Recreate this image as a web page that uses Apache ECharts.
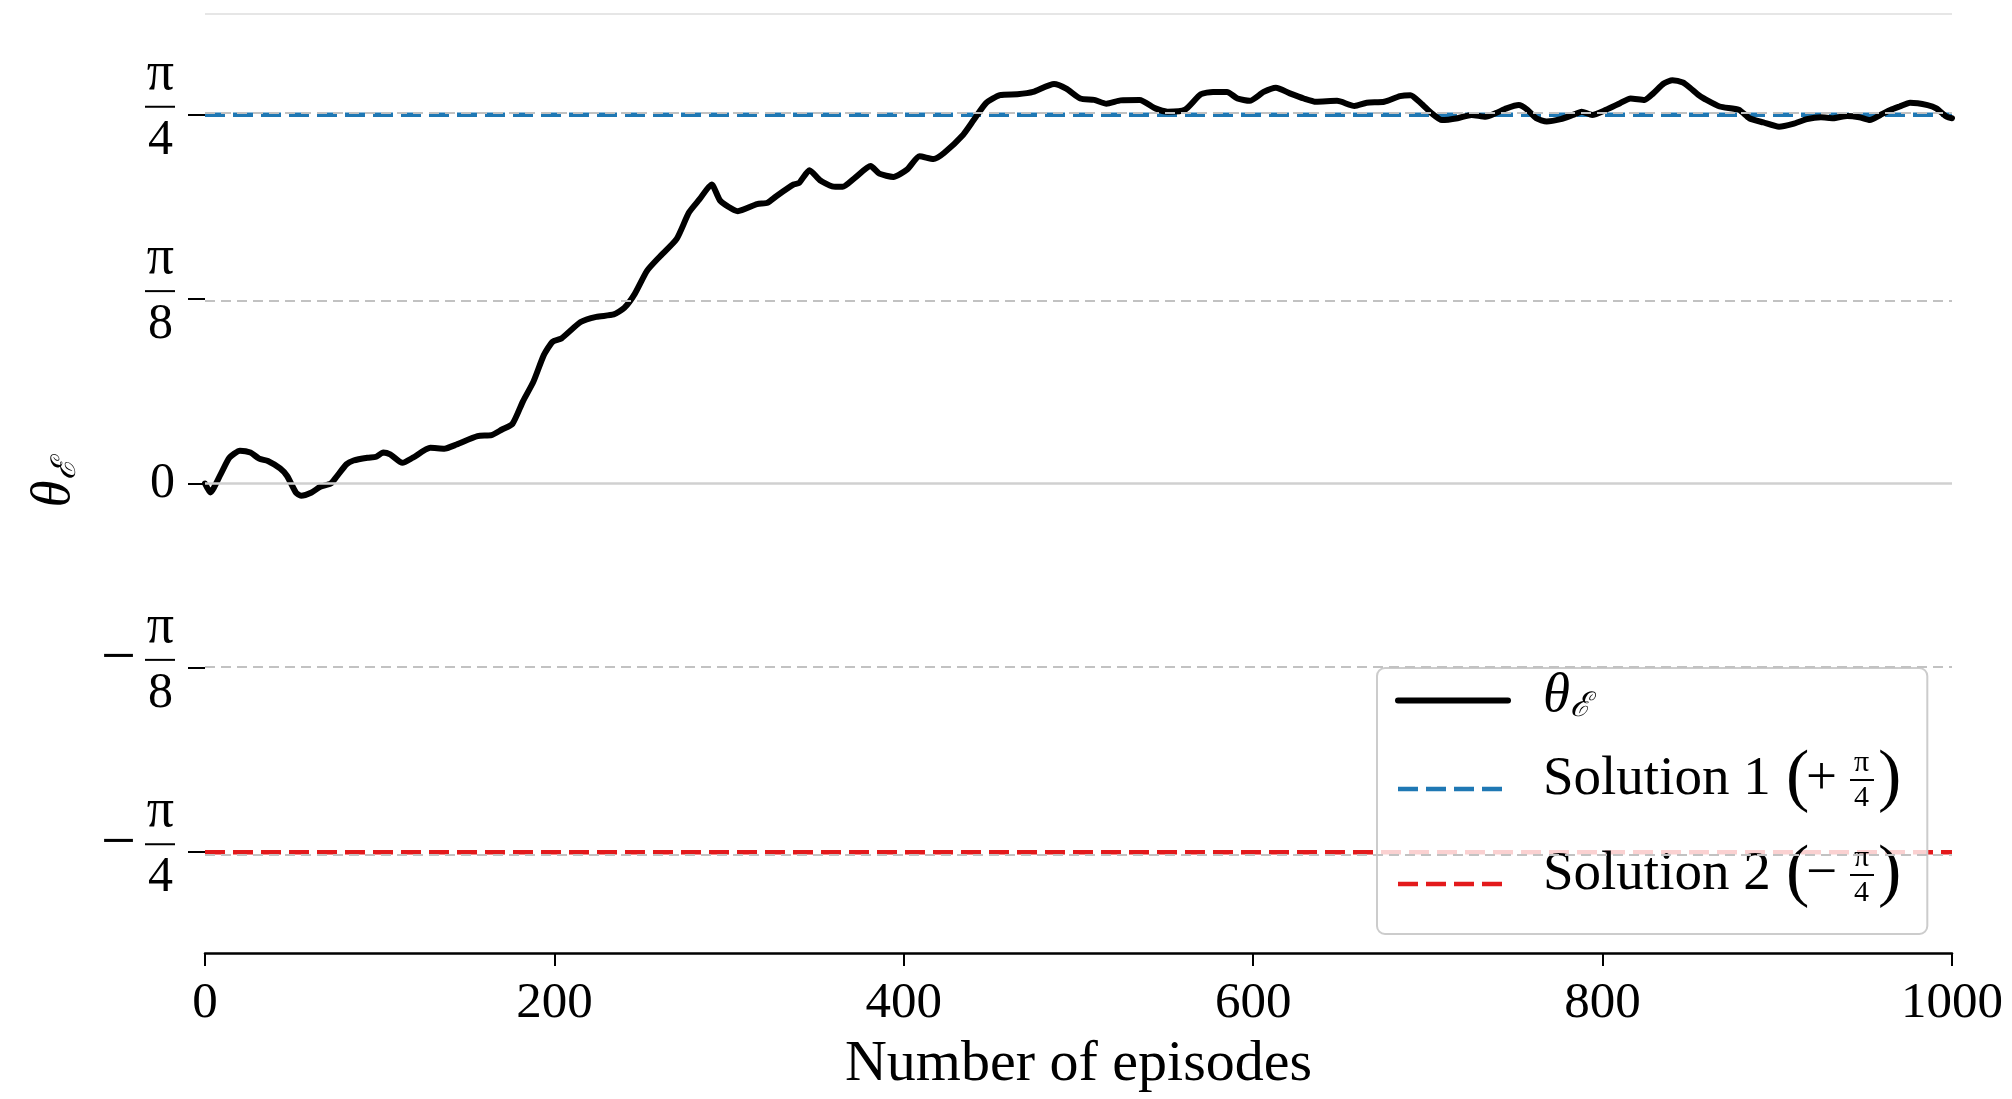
<!DOCTYPE html>
<html>
<head>
<meta charset="utf-8">
<script src="https://cdn.jsdelivr.net/npm/echarts@6/dist/echarts.min.js"></script>
<style>
html,body{margin:0;padding:0;background:#fff;}
#chart{width:2012px;height:1099px;}
</style>
</head>
<body>
<div id="chart"></div>
<script>
// ---- data ----
const episodes = [0,3,9,14,20,26,31,36,43,47,52,55,61,66,72,75,81,85,93,98,102,106,113,119,129,137,144,156,164,170,176,182,188,194,199,204,215,224,234,240,246,253,260,270,277,283,290,295,305,316,322,327,337,340,346,352,359,365,372,381,386,394,402,409,417,423,434,440,447,455,465,474,486,493,501,509,516,524,535,544,551,561,570,577,585,591,598,606,613,621,629,636,648,658,665,675,684,690,696,702,708,717,725,733,739,745,752,757,762,768,776,783,788,794,802,810,816,824,829,835,840,846,850,855,858,867,878,884,892,901,909,917,925,932,940,947,953,959,965,970,976,986,991,997,1000];
const theta = [0.000,-0.019,0.020,0.055,0.070,0.066,0.053,0.048,0.032,0.016,-0.019,-0.026,-0.019,-0.007,0.000,0.013,0.041,0.049,0.055,0.057,0.066,0.062,0.044,0.055,0.076,0.074,0.083,0.101,0.103,0.115,0.127,0.175,0.217,0.274,0.302,0.309,0.344,0.355,0.360,0.374,0.404,0.453,0.482,0.521,0.577,0.605,0.637,0.602,0.580,0.595,0.598,0.612,0.637,0.640,0.667,0.646,0.633,0.632,0.651,0.676,0.660,0.653,0.669,0.697,0.691,0.704,0.743,0.774,0.810,0.827,0.829,0.834,0.851,0.841,0.820,0.817,0.809,0.816,0.817,0.799,0.792,0.796,0.829,0.834,0.834,0.820,0.815,0.834,0.843,0.831,0.820,0.813,0.815,0.804,0.811,0.813,0.825,0.827,0.810,0.789,0.774,0.778,0.785,0.781,0.789,0.799,0.806,0.796,0.778,0.771,0.776,0.785,0.792,0.785,0.796,0.810,0.820,0.817,0.831,0.852,0.859,0.854,0.843,0.827,0.820,0.803,0.796,0.778,0.769,0.760,0.766,0.776,0.780,0.778,0.783,0.780,0.774,0.785,0.796,0.803,0.811,0.806,0.799,0.781,0.778];

const solutionX = [0, 1000];
const solution1 = Math.PI / 4;
const solution2 = -Math.PI / 4;

const yTickValues = [-Math.PI/4, -Math.PI/8, 0, Math.PI/8, Math.PI/4];
const yTickLabels = ['−π/4', '−π/8', '0', 'π/8', 'π/4'];
const xTickStep = 200;
const gridLines = { top: 1, zero: 0, dashed: [Math.PI/8, -Math.PI/8, Math.PI/4, -Math.PI/4] };

const seriesNames = ['θℰ', 'Solution 1 (+π/4)', 'Solution 2 (−π/4)'];

// ---- chart ----
const SERIF = '"Liberation Serif", "DejaVu Serif", serif';
const chart = echarts.init(document.getElementById('chart'), null, {renderer: 'canvas'});

function yLabel(v) {
  let idx = 0, best = 1e9;
  yTickValues.forEach((t, i) => { if (Math.abs(t - v) < best) { best = Math.abs(t - v); idx = i; } });
  const s = yTickLabels[idx];
  if (s === '0') return '{z|0}';
  const neg = s[0] === '−';
  const den = s.split('/')[1];
  return '{n|π}\n' + (neg ? '{m|−}' : '') + '{b|}\n{d|' + den + '}\n{e|}';
}

function legendLabel(name) {
  if (name === seriesNames[0]) return '{th|θ}{ts|ℰ}';
  const m = name.match(/^(Solution \d) \(([+−])π\/(\d)\)$/);
  return '{fn|π}\n{t|' + m[1] + ' }{po|(}{op|' + m[2] + '}{fb|}{pc|)}\n{fd|' + m[3] + '}\n{le|}';
}

const option = {
  animation: false,
  backgroundColor: '#ffffff',
  grid: { left: 205, right: 60, top: 14, bottom: 142, containLabel: false },
  xAxis: {
    type: 'value', min: 0, max: 1000, interval: xTickStep,
    name: 'Number of episodes', nameLocation: 'middle', nameGap: 83,
    nameTextStyle: { fontFamily: SERIF, fontSize: 58, color: '#000' },
    axisLine: { show: true, onZero: false, lineStyle: { color: '#000', width: 2.5 } },
    axisTick: { show: true, length: 13, lineStyle: { color: '#000', width: 2 } },
    axisLabel: { fontFamily: SERIF, fontSize: 51, color: '#000', margin: 25, formatter: v => String(v) },
    splitLine: { show: false }
  },
  yAxis: {
    type: 'value', min: -1, max: 1,
    name: '{t|θ}{s|ℰ}', nameLocation: 'middle', nameGap: 122, nameRotate: 90,
    nameTextStyle: {
      rich: {
        t: { fontFamily: SERIF, fontStyle: 'italic', fontSize: 55, color: '#000' },
        s: { fontFamily: '"DejaVu Serif", serif', fontStyle: 'italic', fontSize: 34, color: '#000', padding: [22, 0, 0, 0] }
      }
    },
    axisLine: { show: false },
    axisTick: { show: true, customValues: yTickValues, length: 17, lineStyle: { color: '#000', width: 2 } },
    axisLabel: {
      customValues: yTickValues, margin: 30, formatter: yLabel,
      rich: {
        n: { fontFamily: SERIF, fontSize: 54, color: '#000', lineHeight: 60, align: 'right', padding: [0, 1, 0, 0] },
        b: { width: 30, height: 2, lineHeight: 4, backgroundColor: '#000', align: 'right' },
        m: { fontFamily: SERIF, fontSize: 62, color: '#000', lineHeight: 4, align: 'right', padding: [0, 9, 0, 0] },
        d: { fontFamily: SERIF, fontSize: 50, color: '#000', lineHeight: 64, align: 'right', padding: [0, 2, 0, 0] },
        e: { lineHeight: 12, height: 12, align: 'right' },
        z: { fontFamily: SERIF, fontSize: 50, color: '#000', align: 'right' }
      }
    },
    splitLine: { show: false }
  },
  legend: {
    data: [
      { name: seriesNames[0], lineStyle: { width: 6 } },
      { name: seriesNames[1], lineStyle: { width: 4.5 } },
      { name: seriesNames[2], lineStyle: { width: 4.5 } }
    ],
    orient: 'vertical', left: 1377, top: 668,
    padding: [1, 26, 12, 18],
    itemGap: 13, itemWidth: 110, itemHeight: 2,
    itemStyle: { opacity: 0 },
    backgroundColor: 'rgba(255,255,255,0.8)', borderColor: '#cccccc', borderWidth: 2, borderRadius: 8,
    formatter: legendLabel,
    textStyle: {
      fontFamily: SERIF, color: '#000', padding: [0, 0, 0, 30],
      rich: {
        th: { fontFamily: SERIF, fontStyle: 'italic', fontSize: 55, color: '#000', lineHeight: 76, padding: [0, 0, 8, 0] },
        ts: { fontFamily: '"DejaVu Serif", serif', fontStyle: 'italic', fontSize: 34, color: '#000', padding: [14, 0, 0, 0] },
        fn: { fontFamily: SERIF, fontSize: 30, color: '#000', lineHeight: 24, padding: [0, 0, 0, 311] },
        t: { fontFamily: SERIF, fontSize: 55, color: '#000', lineHeight: 10, width: 243 },
        po: { fontFamily: SERIF, fontSize: 70, color: '#000', lineHeight: 10, width: 20 },
        op: { fontFamily: SERIF, fontSize: 55, color: '#000', lineHeight: 10, width: 44 },
        fb: { width: 24, height: 2, lineHeight: 10, backgroundColor: '#000' },
        pc: { fontFamily: SERIF, fontSize: 70, color: '#000', lineHeight: 10, padding: [0, 0, 0, 4] },
        fd: { fontFamily: SERIF, fontSize: 30, color: '#000', lineHeight: 26, padding: [0, 0, 0, 311] },
        le: { lineHeight: 16, height: 16 }
      }
    }
  },
  series: [
    {
      name: 'grid', type: 'line', data: [], z: 1, silent: true,
      markLine: {
        silent: true, symbol: ['none', 'none'], label: { show: false }, animation: false,
        data: [
          { yAxis: gridLines.top, lineStyle: { color: '#e6e6e6', width: 2, type: 'solid' } },
          { yAxis: gridLines.zero, lineStyle: { color: '#d0d0d0', width: 2.5, type: 'solid' } }
        ].concat(gridLines.dashed.map(v => ({ yAxis: v, lineStyle: { color: '#c2c2c2', width: 2, type: [10, 6] } })))
      }
    },
    {
      name: seriesNames[1], type: 'line', z: 2, showSymbol: false, symbol: 'none',
      data: solutionX.map(x => [x, solution1]),
      lineStyle: { color: '#1f78b4', width: 4.5, type: [20, 8] },
      itemStyle: { color: '#1f78b4' }
    },
    {
      name: seriesNames[2], type: 'line', z: 2, showSymbol: false, symbol: 'none',
      data: solutionX.map(x => [x, solution2]),
      lineStyle: { color: '#e31a1c', width: 4.5, type: [20, 8] },
      itemStyle: { color: '#e31a1c' }
    },
    {
      name: seriesNames[0], type: 'line', z: 3, showSymbol: false, symbol: 'none', smooth: 0.2,
      data: episodes.map((e, i) => [e, theta[i]]),
      lineStyle: { color: '#000', width: 6, cap: 'round', join: 'round' },
      itemStyle: { color: '#000' }
    }
  ]
};
chart.setOption(option);
</script>
</body>
</html>
